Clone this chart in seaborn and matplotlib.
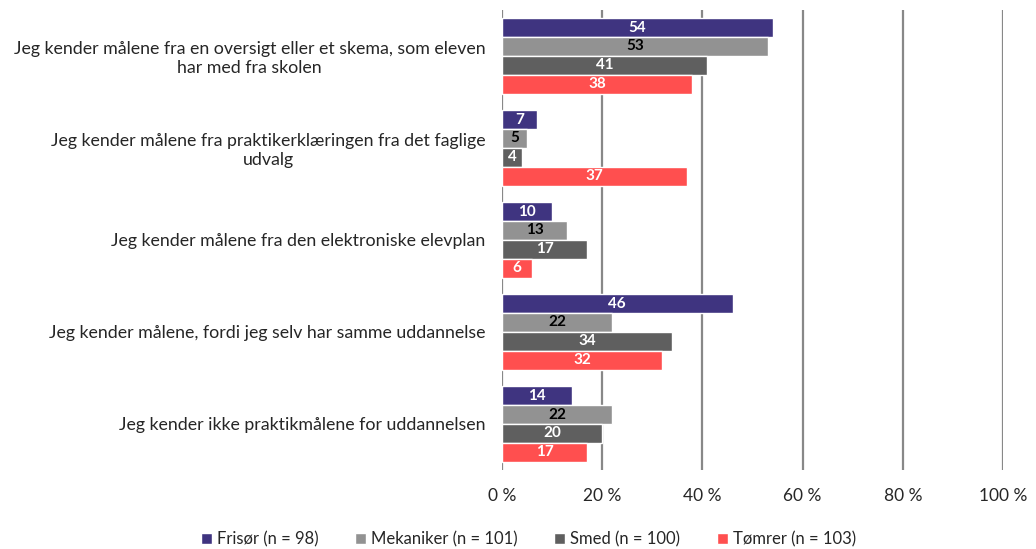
import matplotlib.pyplot as plt
import pandas as pd
import seaborn as sns

# categories (y axis)
statements = [
    "Jeg kender målene fra en oversigt eller et skema, som eleven\nhar med fra skolen",
    "Jeg kender målene fra praktikerklæringen fra det faglige\nudvalg",
    "Jeg kender målene fra den elektroniske elevplan",
    "Jeg kender målene, fordi jeg selv har samme uddannelse",
    "Jeg kender ikke praktikmålene for uddannelsen",
]
groups = ["Frisør (n = 98)", "Mekaniker (n = 101)", "Smed (n = 100)", "Tømrer (n = 103)"]

frisor = [54, 7, 10, 46, 14]
mekaniker = [53, 5, 13, 22, 22]
smed = [41, 4, 17, 34, 20]
tomrer = [38, 37, 6, 32, 17]

colors = ["#3F3480", "#929292", "#5F5F5F", "#FF4F4F"]
label_colors = ["white", "black", "white", "white"]

rows = []
for g, vals in zip(groups, [frisor, mekaniker, smed, tomrer]):
    for s, v in zip(statements, vals):
        rows.append({"statement": s, "group": g, "value": v})
df = pd.DataFrame(rows)

sns.set_style("white")
plt.rcParams["font.family"] = ["Lato", "DejaVu Sans"]

fig = plt.figure(figsize=(10.36, 5.49), dpi=100)
ax = fig.add_axes([0.4846, 0.144, 0.4836, 0.838])

sns.barplot(data=df, y="statement", x="value", hue="group", orient="h",
            palette=colors, width=0.82, saturation=1, ax=ax, zorder=3)

# bar labels
for cont, lc in zip(ax.containers, label_colors):
    ax.bar_label(cont, label_type="center", color=lc, fontsize=11, fontweight="bold")

ax.set_xlim(0, 100)
ax.set_ylim(4.5, -0.5)
ax.set_xticks([0, 20, 40, 60, 80, 100])
ax.set_xticklabels([f"{t} %" for t in [0, 20, 40, 60, 80, 100]], fontsize=12.5)
ax.tick_params(axis="y", labelsize=12.8, length=0, pad=12)
ax.tick_params(axis="x", length=0, pad=13)
for lab in ax.get_yticklabels():
    lab.set_horizontalalignment("right")
    lab.set_multialignment("center")
ax.set_xlabel("")
ax.set_ylabel("")

ax.grid(axis="x", color="#888888", linewidth=1.6, zorder=0)
ax.grid(axis="y", visible=False)
for sp in ax.spines.values():
    sp.set_visible(False)

# legend along the bottom of the figure
ax.legend(loc="center", bbox_to_anchor=(0.51, 0.018), bbox_transform=fig.transFigure,
          ncol=4, frameon=False, fontsize=12, handlelength=0.65, handleheight=0.65,
          handletextpad=0.3, columnspacing=2.2)

fig.savefig("out.png", dpi=100)
